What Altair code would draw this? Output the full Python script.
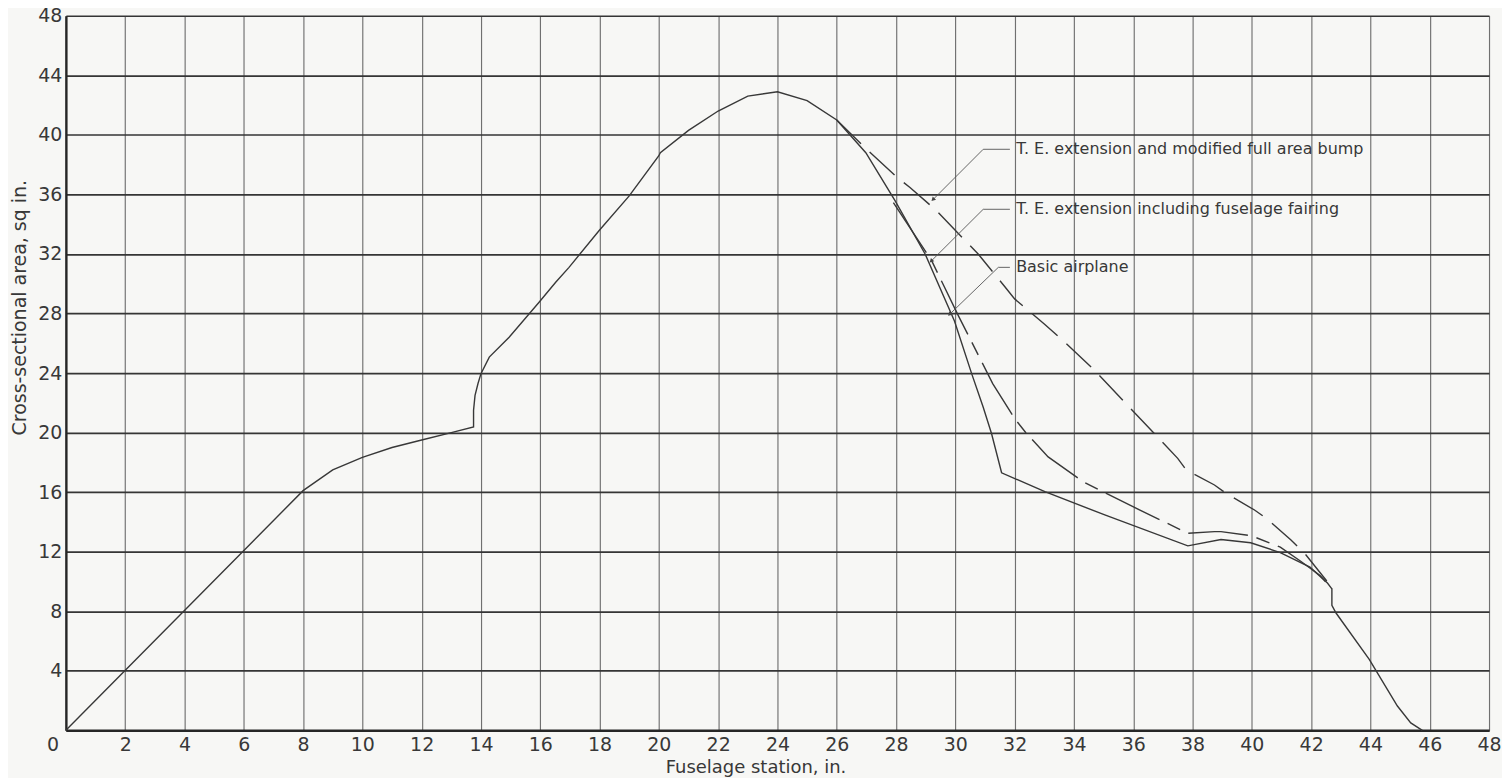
import altair as alt
import pandas as pd

# ---- data ----
common_x = [0, 8, 9, 10, 11, 12, 13, 13.75, 13.75, 13.8, 13.9, 14.0, 14.28, 14.95, 15.96, 16.52,
            16.97, 17.98, 19.0, 20.0, 20.05, 21.0, 22.0, 23.0, 24.0, 25.0, 26.0]
common_y = [0, 16.1, 17.5, 18.33, 19.0, 19.5, 20.0, 20.38, 21.5, 22.5, 23.3, 23.96, 25.07, 26.4, 28.75, 30.1,
            31.1, 33.56, 35.9, 38.6, 38.8, 40.3, 41.6, 42.6, 42.89, 42.3, 41.0]

basic_x = [26.98, 27.97, 28.98, 29.97, 30.55, 30.94, 31.22, 31.56, 33.02, 35.04, 37.84, 38.96, 39.96,
           40.96, 41.96, 42.55, 42.7, 42.7, 42.84, 43.96, 44.91, 45.36, 45.75]
basic_y = [38.8, 35.57, 32.0, 27.5, 23.96, 21.7, 19.94, 17.3, 16.03, 14.47, 12.39, 12.82, 12.6,
           11.94, 10.96, 9.89, 9.5, 8.4, 7.88, 4.76, 1.63, 0.5, 0.0]

fairing_x = [27.91, 29.2, 30.1, 31.26, 32.0, 32.4, 33.13, 34.31, 35.99, 37.84, 38.74, 38.96, 39.97,
             40.96, 41.66, 42.3, 42.7]
fairing_y = [35.45, 31.55, 27.86, 23.29, 20.94, 19.94, 18.37, 16.7, 15.02, 13.24, 13.35, 13.35, 13.08,
             12.3, 11.34, 10.4, 9.5]

bump_x = [26.0, 27.01, 28.02, 28.47, 29.37, 30.44, 30.77, 31.67, 32.0, 33.0, 33.63, 34.64, 35.6,
          36.55, 37.5, 37.79, 38.74, 39.13, 40.09, 40.48, 41.32, 41.82, 42.7]
bump_y = [41.0, 39.03, 37.17, 36.46, 34.9, 32.67, 32.0, 29.8, 28.98, 27.3, 26.19, 24.29, 22.28,
          20.27, 18.27, 17.48, 16.48, 15.92, 14.8, 14.25, 12.79, 11.79, 9.6]

label_texts = ["T. E. extension and modified full area bump",
               "T. E. extension including fuselage fairing",
               "Basic airplane"]
label_x = [32.05, 32.05, 32.05]
label_y = [39.03, 35.0, 31.1]

# leader lines: horizontal end, elbow, tip
leader_x = [[31.84, 30.94, 29.26], [31.84, 30.94, 29.2], [31.84, 31.45, 29.82]]
leader_y = [[39.03, 39.03, 35.68], [35.0, 35.0, 31.55], [31.1, 31.1, 27.97]]

x_title = "Fuselage station, in."
y_title = "Cross-sectional area, sq in."

FONT = "DejaVu Sans"
INK = "#383838"

basic = pd.DataFrame({"x": common_x + basic_x, "y": common_y + basic_y})
basic["o"] = range(len(basic))
fairing = pd.DataFrame({"x": fairing_x, "y": fairing_y})
fairing["o"] = range(len(fairing))
bump = pd.DataFrame({"x": bump_x, "y": bump_y})
bump["o"] = range(len(bump))

lead_rows = []
for i, (lx, ly) in enumerate(zip(leader_x, leader_y)):
    for j, (a, b) in enumerate(zip(lx, ly)):
        lead_rows.append({"g": i, "o": j, "x": a, "y": b})
leaders = pd.DataFrame(lead_rows)
tips = pd.DataFrame({"x": [l[-1] for l in leader_x], "y": [l[-1] for l in leader_y]})
labels = pd.DataFrame({"x": label_x, "y": label_y, "t": label_texts})
corner = pd.DataFrame({"x": [0], "y": [0], "t": ["0"]})

xs = alt.Scale(domain=[0, 48], nice=False, zero=False)
ys = alt.Scale(domain=[0, 48], nice=False, zero=False)

x_axis = alt.Axis(values=list(range(0, 49)),
                  labelExpr="datum.value % 2 == 0 && datum.value > 0 ? datum.label : ''",
                  ticks=False, grid=True, gridColor="#707070", gridWidth=1.15,
                  domainColor="#262626", domainWidth=2.6,
                  labelFont=FONT, labelFontSize=19, labelColor=INK, labelPadding=5,
                  labelFlush=False,
                  title=x_title, titleFont=FONT, titleFontSize=18, titleFontWeight="normal",
                  titleColor=INK, titleBaseline="alphabetic", titleY=42,
                  titleX=691, titleAlign="center")
y_axis = alt.Axis(values=list(range(0, 49, 2)),
                  labelExpr="datum.value % 4 == 0 && datum.value > 0 ? datum.label : ''",
                  ticks=False, grid=True, gridColor="#353535", gridWidth=1.7,
                  domainColor="#262626", domainWidth=2.4,
                  labelFont=FONT, labelFontSize=19, labelColor=INK, labelPadding=4,
                  labelFlush=False,
                  title=y_title, titleFont=FONT, titleFontSize=19, titleFontWeight="normal",
                  titleColor=INK, titleBaseline="alphabetic", titleX=-40, titleY=292)

base_line = alt.Chart(basic).mark_line(color=INK, strokeWidth=1.4).encode(
    x=alt.X("x:Q", scale=xs, axis=x_axis),
    y=alt.Y("y:Q", scale=ys, axis=y_axis),
    order="o:Q",
)
fair_line = alt.Chart(fairing).mark_line(color=INK, strokeWidth=1.4, strokeDash=[60, 9, 14, 9]).encode(
    x=alt.X("x:Q", scale=xs), y=alt.Y("y:Q", scale=ys), order="o:Q")
bump_line = alt.Chart(bump).mark_line(color=INK, strokeWidth=1.4, strokeDash=[34, 12]).encode(
    x=alt.X("x:Q", scale=xs), y=alt.Y("y:Q", scale=ys), order="o:Q")

lead_line = alt.Chart(leaders).mark_line(color="#555555", strokeWidth=0.9).encode(
    x=alt.X("x:Q", scale=xs), y=alt.Y("y:Q", scale=ys), detail="g:N", order="o:Q")
tip_mark = alt.Chart(tips).mark_point(shape="triangle", filled=True, color="#444444",
                                      size=22, angle=225, opacity=1).encode(
    x=alt.X("x:Q", scale=xs), y=alt.Y("y:Q", scale=ys))
label_mark = alt.Chart(labels).mark_text(align="left", baseline="middle", font=FONT,
                                         fontSize=16, color=INK).encode(
    x=alt.X("x:Q", scale=xs), y=alt.Y("y:Q", scale=ys), text="t:N")
corner_mark = alt.Chart(corner).mark_text(align="center", baseline="middle", font=FONT,
                                          fontSize=19, color=INK, dx=-13, dy=15).encode(
    x=alt.X("x:Q", scale=xs), y=alt.Y("y:Q", scale=ys), text="t:N")

chart = alt.layer(base_line, fair_line, bump_line, lead_line, tip_mark, label_mark, corner_mark).properties(
    width=1426, height=716,
    autosize=alt.AutoSizeParams(type="none"),
    padding={"left": 58, "top": 7, "right": 13, "bottom": 47},
    background="#f7f7f5",
).configure_view(strokeWidth=0)

chart.save("out.html", embed_options={"renderer": "svg", "actions": False})
